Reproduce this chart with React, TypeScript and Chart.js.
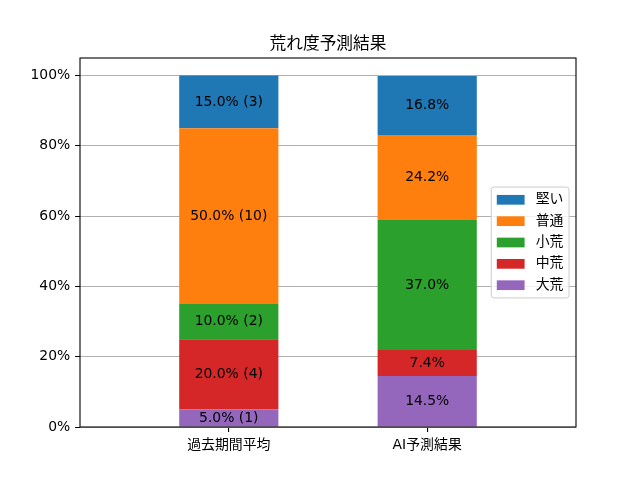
import React, { useEffect, useRef } from 'react';
import { Chart, registerables, Plugin } from 'chart.js';

Chart.register(...registerables);

const categories = ['過去期間平均', 'AI予測結果'];
const levels = ['大荒', '中荒', '小荒', '普通', '堅い'];
const levelColors = ['#9467bd', '#d62728', '#2ca02c', '#ff7f0e', '#1f77b4'];
const pastShare = [5.0, 20.0, 10.0, 50.0, 15.0];
const pastCounts = [1, 4, 2, 10, 3];
const aiShare = [14.5, 7.4, 37.0, 24.2, 16.8];
const yTicks = [0, 20, 40, 60, 80, 100];
const title = '荒れ度予測結果';

const shares = [pastShare, aiShare];
const counts: (number[] | null)[] = [pastCounts, null];

const FONT = "'DejaVu Sans', 'Noto Sans CJK JP', sans-serif";
const FS = 13.9;

// frame, bar labels, title and legend, drawn the matplotlib way
const decorations: Plugin<'bar'> = {
	id: 'decorations',
	afterDatasetsDraw(chart) {
		const { ctx, chartArea: a } = chart;
		ctx.save();
		ctx.font = `${FS}px ${FONT}`;
		ctx.fillStyle = '#000';
		ctx.textAlign = 'center';
		ctx.textBaseline = 'middle';
		chart.data.datasets.forEach((_, d) => {
			chart.getDatasetMeta(d).data.forEach((el: any, i) => {
				const v = shares[i][d];
				const c = counts[i];
				const text = c ? `${v.toFixed(1)}% (${c[d]})` : `${v.toFixed(1)}%`;
				ctx.fillText(text, el.x, (el.y + el.base) / 2);
			});
		});
		ctx.strokeStyle = '#000';
		ctx.lineWidth = 1.1;
		ctx.strokeRect(a.left, a.top, a.right - a.left, a.bottom - a.top);
		ctx.restore();
	},
	afterDraw(chart) {
		const { ctx, chartArea: a } = chart;
		ctx.save();
		ctx.font = `${16.7}px ${FONT}`;
		ctx.fillStyle = '#000';
		ctx.textAlign = 'center';
		ctx.textBaseline = 'alphabetic';
		ctx.fillText(title, (a.left + a.right) / 2, a.top - 9);

		// legend, center right inside the axes
		ctx.font = `${FS}px ${FONT}`;
		const rows = levels.map((l, i) => ({ label: l, color: levelColors[i] })).reverse();
		const pad = 0.4 * FS;
		const handleW = 2 * FS;
		const handleH = 0.7 * FS;
		const textPad = 0.8 * FS;
		const rowH = 14.4;
		const gap = 0.5 * FS;
		const textW = Math.max(...rows.map(r => ctx.measureText(r.label).width));
		const w = pad * 2 + handleW + textPad + textW;
		const h = pad * 2 + rows.length * rowH + (rows.length - 1) * gap;
		const x = a.right - 0.5 * FS - w;
		const y = (a.top + a.bottom) / 2 - h / 2;
		ctx.beginPath();
		ctx.roundRect(x, y, w, h, 2.8);
		ctx.fillStyle = 'rgba(255,255,255,0.8)';
		ctx.fill();
		ctx.strokeStyle = '#cccccc';
		ctx.lineWidth = 1;
		ctx.stroke();
		ctx.textAlign = 'left';
		ctx.textBaseline = 'middle';
		rows.forEach((r, i) => {
			const cy = y + pad + i * (rowH + gap) + rowH / 2;
			ctx.fillStyle = r.color;
			ctx.fillRect(x + pad, cy - handleH / 2, handleW, handleH);
			ctx.fillStyle = '#000';
			ctx.fillText(r.label, x + pad + handleW + textPad, cy);
		});
		ctx.restore();
	},
};

export default function App() {
	const canvas = useRef<HTMLCanvasElement>(null!);

	useEffect(() => {
		const chart = new Chart(canvas.current, {
			type: 'bar',
			data: {
				datasets: levels.map((l, d) => ({
					label: l,
					data: shares.map((s, i) => ({ x: i, y: s[d] })),
					backgroundColor: levelColors[d],
					borderWidth: 0,
					categoryPercentage: 1,
					barPercentage: 0.5,
				})),
			},
			options: {
				animation: false,
				responsive: true,
				maintainAspectRatio: false,
				layout: { padding: { left: 0, right: 64, top: 58, bottom: 0 } },
				plugins: {
					legend: { display: false },
					title: { display: false },
					tooltip: { enabled: false },
				},
				scales: {
					x: {
						type: 'linear',
						stacked: true,
						min: -0.75,
						max: 1.75,
						offset: false,
						border: { display: false },
						grid: { offset: false, drawOnChartArea: false, tickLength: 4.9, tickColor: '#000', lineWidth: 1.1 },
						ticks: {
							color: '#000',
							padding: 4.9,
							font: { family: FONT, size: FS },
							callback: (v) => categories[Number(v)] ?? '',
						},
						afterBuildTicks: (s) => { s.ticks = categories.map((_, i) => ({ value: i })); },
						afterFit: (s) => { s.height = 53; },
					},
					y: {
						stacked: true,
						min: 0,
						max: 105,
						border: { display: false },
						grid: { color: '#b0b0b0', lineWidth: 1, tickColor: '#000', tickLength: 4.9 },
						ticks: {
							color: '#000',
							padding: 4.9,
							font: { family: FONT, size: FS },
							callback: (v) => `${v}%`,
						},
						afterBuildTicks: (s) => { s.ticks = yTicks.map(v => ({ value: v })); },
						afterFit: (s) => { s.width = 80; },
					},
				},
			},
			plugins: [decorations],
		});
		return () => chart.destroy();
	}, []);

	return <div style={{ position: 'fixed', left: 0, top: 0, width: 640, height: 480, background: '#fff' }}>
		<canvas ref={canvas}></canvas>
	</div>;
}
